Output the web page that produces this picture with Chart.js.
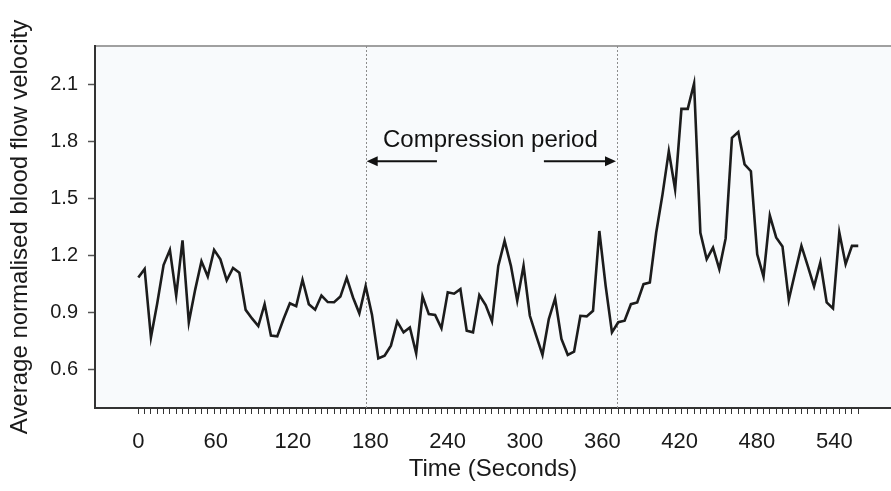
<!DOCTYPE html>
<html>
<head>
<meta charset="utf-8">
<title>Average normalised blood flow velocity</title>
<script src="https://cdn.jsdelivr.net/npm/chart.js@4.4.1/dist/chart.umd.min.js"></script>
<style>
  html, body { margin: 0; padding: 0; background: #ffffff; }
  #wrap { width: 891px; height: 491px; }
</style>
</head>
<body>
<div id="wrap"><canvas id="flow-chart"></canvas></div>
<script>
// Sampling interval (one minor tick per sample)
const SAMPLE_SECONDS = 4.9;

// Average normalised blood flow velocity, one value per sample
const VELOCITY = [
  1.085, 1.13, 0.77, 0.95, 1.15, 1.23, 0.99, 1.28, 0.85, 1.02,
  1.17, 1.09, 1.23, 1.18, 1.07, 1.135, 1.11, 0.915, 0.87, 0.83,
  0.945, 0.78, 0.776, 0.867, 0.95, 0.935, 1.073, 0.945, 0.916, 0.99,
  0.956, 0.955, 0.985, 1.083, 0.98, 0.897, 1.04, 0.89, 0.66, 0.675,
  0.727, 0.853, 0.797, 0.823, 0.687, 0.986, 0.893, 0.888, 0.818, 1.007,
  1.0, 1.024, 0.806, 0.797, 0.993, 0.94, 0.855, 1.146, 1.277, 1.146,
  0.963, 1.146, 0.884, 0.78, 0.679, 0.867, 0.975, 0.762, 0.679, 0.696,
  0.884, 0.881, 0.91, 1.329, 1.041, 0.797, 0.85, 0.858, 0.945, 0.954,
  1.05, 1.059, 1.32, 1.52, 1.748, 1.548, 1.97, 1.97, 2.103, 1.32,
  1.181, 1.242, 1.129, 1.29, 1.818, 1.848, 1.679, 1.643, 1.207, 1.09,
  1.41, 1.295, 1.248, 0.968, 1.111, 1.251, 1.146, 1.038, 1.164, 0.954,
  0.923, 1.321, 1.155, 1.251, 1.251
];

const X_TICKS = [0, 60, 120, 180, 240, 300, 360, 420, 480, 540];
const Y_TICKS = [0.6, 0.9, 1.2, 1.5, 1.8, 2.1];

// Compression period markers (seconds) and the label between them
const COMPRESSION = [176.4, 371.4];
const ARROW_TAILS = [231.7, 314.7];
const ARROW_LEVEL = 1.695;
const LABEL_POS = { x: 273.2, y: 1.805 };
const LABEL_TEXT = "Compression period";

const FONT = '"Liberation Sans", Arial, Helvetica, sans-serif';

const TIMES = VELOCITY.map((_, i) => i * SAMPLE_SECONDS);

// --- Plot background, dotted markers, arrows and label ---

function drawArrow(ctx, fromX, toX, y) {
  const dir = Math.sign(toX - fromX);
  ctx.beginPath();
  ctx.moveTo(fromX, y);
  ctx.lineTo(toX - dir * 9, y);
  ctx.stroke();
  ctx.beginPath();
  ctx.moveTo(toX, y);
  ctx.lineTo(toX - dir * 11, y - 5);
  ctx.lineTo(toX - dir * 11, y + 5);
  ctx.closePath();
  ctx.fill();
}

const overlayPlugin = {
  id: "overlay",
  beforeDraw(chart) {
    const { ctx, chartArea: a } = chart;
    ctx.save();
    ctx.fillStyle = "#f8fafc";
    ctx.fillRect(a.left, a.top, a.right - a.left, a.bottom - a.top);
    ctx.restore();
  },
  beforeDatasetsDraw(chart) {
    const { ctx, chartArea: a, scales } = chart;
    ctx.save();
    ctx.strokeStyle = "#8c8c8c";
    ctx.lineWidth = 1;
    ctx.setLineDash([2, 2]);
    COMPRESSION.forEach((t) => {
      const px = Math.round(scales.x.getPixelForValue(t)) + 0.5;
      ctx.beginPath();
      ctx.moveTo(px, a.top);
      ctx.lineTo(px, a.bottom);
      ctx.stroke();
    });
    ctx.restore();
  },
  afterDatasetsDraw(chart) {
    const { ctx, scales } = chart;
    const x = scales.x;
    const y = scales.y;
    ctx.save();
    ctx.strokeStyle = "#111";
    ctx.fillStyle = "#111";
    ctx.lineWidth = 2;
    const ay = y.getPixelForValue(ARROW_LEVEL);
    drawArrow(ctx, x.getPixelForValue(ARROW_TAILS[0]), x.getPixelForValue(COMPRESSION[0]) + 1, ay);
    drawArrow(ctx, x.getPixelForValue(ARROW_TAILS[1]), x.getPixelForValue(COMPRESSION[1]) - 1, ay);
    ctx.font = "24px " + FONT;
    ctx.textAlign = "center";
    ctx.textBaseline = "middle";
    ctx.fillText(LABEL_TEXT, x.getPixelForValue(LABEL_POS.x), y.getPixelForValue(LABEL_POS.y));
    ctx.restore();
  },
};

// --- Chart ---

Chart.defaults.font.family = FONT;
Chart.defaults.color = "#1a1a1a";

new Chart(document.getElementById("flow-chart"), {
  type: "line",
  data: {
    datasets: [
      {
        data: VELOCITY.map((v, i) => ({ x: TIMES[i], y: v })),
        borderColor: "#1c1c1c",
        borderWidth: 2.6,
        pointRadius: 0,
        tension: 0,
        fill: false,
      },
    ],
  },
  options: {
    responsive: true,
    maintainAspectRatio: false,
    animation: false,
    layout: { padding: 0 },
    plugins: {
      legend: { display: false },
      tooltip: { enabled: false },
    },
    scales: {
      x: {
        type: "linear",
        position: "bottom",
        min: -33.6,
        max: 584,
        afterBuildTicks: (scale) => {
          const marks = TIMES.map((t) => ({ value: t, mark: true }));
          const labels = X_TICKS.filter((t) => !TIMES.includes(t)).map((t) => ({ value: t, mark: false }));
          scale.ticks = marks.concat(labels).sort((a, b) => a.value - b.value);
        },
        afterFit: (scale) => {
          scale.height = 83;
        },
        ticks: {
          autoSkip: false,
          maxRotation: 0,
          minRotation: 0,
          padding: 15,
          font: { size: 22 },
          color: "#1a1a1a",
          callback: (value) => (X_TICKS.includes(value) ? String(value) : ""),
        },
        grid: {
          drawOnChartArea: false,
          tickLength: 6,
          tickWidth: 1,
          tickColor: (c) => (c.tick && c.tick.mark ? "#333" : "rgba(0,0,0,0)"),
        },
        border: { color: "#333", width: 2 },
        title: {
          display: true,
          text: "Time (Seconds)",
          font: { size: 24 },
          color: "#1a1a1a",
          padding: { top: 0, bottom: 7 },
        },
      },
      xTop: {
        type: "linear",
        position: "top",
        min: -33.6,
        max: 584,
        afterFit: (scale) => {
          scale.height = 46;
        },
        ticks: { display: false },
        grid: { display: false },
        border: { color: "#a0a0a0", width: 2 },
      },
      y: {
        type: "linear",
        position: "left",
        min: 0.4,
        max: 2.3,
        afterBuildTicks: (scale) => {
          scale.ticks = Y_TICKS.map((v) => ({ value: v }));
        },
        afterFit: (scale) => {
          scale.width = 95;
        },
        ticks: {
          padding: 10,
          font: { size: 20 },
          color: "#1a1a1a",
          callback: (value) => value.toFixed(1),
        },
        grid: {
          drawOnChartArea: false,
          tickLength: 7,
          tickWidth: 1.5,
          tickColor: "#555",
        },
        border: { color: "#333", width: 2 },
        title: {
          display: true,
          text: "Average normalised blood flow velocity",
          font: { size: 24 },
          color: "#1a1a1a",
          padding: { top: 6, bottom: 0 },
        },
      },
    },
  },
  plugins: [overlayPlugin],
});
</script>
</body>
</html>
